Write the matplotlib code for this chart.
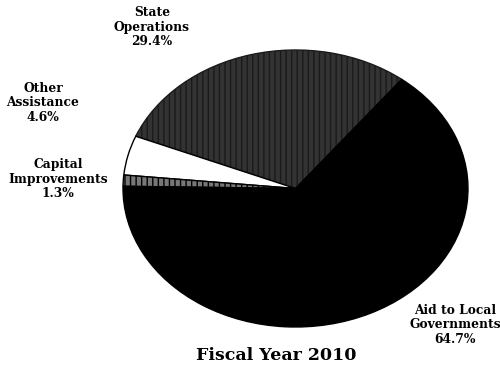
import matplotlib
matplotlib.use("Agg")
import matplotlib.pyplot as plt

categories = ["State Operations", "Other Assistance", "Capital Improvements", "Aid to Local Governments"]
values = [29.4, 4.6, 1.3, 64.7]
labels = ["State\nOperations\n29.4%", "Other\nAssistance\n4.6%", "Capital\nImprovements\n1.3%", "Aid to Local\nGovernments\n64.7%"]
title = "Fiscal Year 2010"

W, H = 500, 381
fig = plt.figure(figsize=(W/100, H/100), dpi=100)
# ellipse bounding box in pixels: x 123-468, y 50-327
ax = fig.add_axes([123/W, 1-327/H, (468-123)/W, (327-50)/H])
wedges, _ = ax.pie(values, startangle=52, counterclock=True,
                   colors=["#333333", "white", "#777777", "black"],
                   wedgeprops=dict(edgecolor="black", linewidth=1.0))
wedges[0].set_hatch("|||")
wedges[0].set_edgecolor("#1a1a1a")
wedges[2].set_hatch("|||")
ax.set_aspect("auto")
ax.set_xlim(-1.0, 1.0)
ax.set_ylim(-1.0, 1.0)
ax.axis("off")

fam = ["DejaVu Serif"]
kw = dict(ha="center", va="center", fontsize=8.8, fontweight="bold", family=fam, linespacing=1.15)
pos = [(152, 27), (43, 103), (58, 179), (455, 325)]
for (x, y), t in zip(pos, labels):
    fig.text(x/W, 1-y/H, t, **kw)
fig.text(276/W, 1-356/H, title, ha="center", va="center", fontsize=12.5, fontweight="bold", family=fam)

fig.savefig("out.png", dpi=100)
